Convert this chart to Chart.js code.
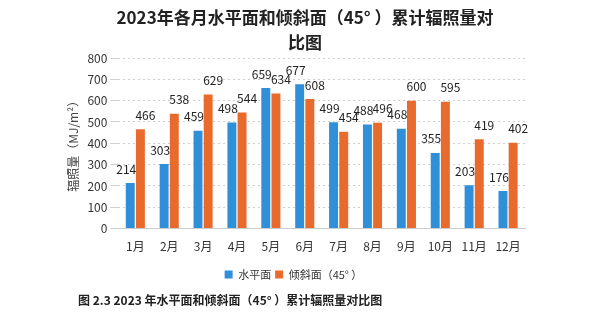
<!DOCTYPE html>
<html>
<head>
<meta charset="utf-8">
<script src="https://cdn.jsdelivr.net/npm/chart.js@4"></script>
<style>
  html, body { margin: 0; padding: 0; background: #fff; }
  #wrap { position: relative; width: 600px; height: 333px; }
  #title {
    position: absolute; left: 0; top: 4px; width: 610px;
    text-align: center; line-height: 20px;
    font: bold 17px "Noto Sans CJK SC", "DejaVu Sans", sans-serif;
    color: #222;
  }
  #caption {
    position: absolute; left: 78px; top: 291px;
    font: bold 12px "Noto Sans CJK SC", "DejaVu Sans", sans-serif;
    color: #222; white-space: pre;
  }
</style>
</head>
<body>
<div id="wrap">
  <canvas id="radChart" width="600" height="333"></canvas>
  <div id="title">2023年各月水平面和倾斜面（45° ）累计辐照量对<br>比图</div>
  <div id="caption">图 2.3 2023 年水平面和倾斜面（45° ）累计辐照量对比图</div>
</div>
<script>
const months = ['1月', '2月', '3月', '4月', '5月', '6月', '7月', '8月', '9月', '10月', '11月', '12月'];
const horizontal = [214, 303, 459, 498, 659, 677, 499, 488, 468, 355, 203, 176];
const tilted = [466, 538, 629, 544, 634, 608, 454, 496, 600, 595, 419, 402];

const cjk = '"Noto Sans CJK SC", "Noto Sans", sans-serif';

// value labels above each bar, blue shifted left and orange shifted right
const barValues = {
    id: 'barValues',
    afterDatasetsDraw(chart) {
        const c = chart.ctx;
        c.save();
        c.font = '12px ' + cjk;
        c.fillStyle = '#222';
        c.textAlign = 'center';
        c.textBaseline = 'bottom';
        chart.data.datasets.forEach((ds, i) => {
            const meta = chart.getDatasetMeta(i);
            meta.data.forEach((bar, j) => {
                const dx = i === 0 ? -4 : 5;
                c.fillText(ds.data[j], bar.x + dx, bar.y - 8);
            });
        });
        c.restore();
    }
};

new Chart(document.getElementById('radChart').getContext('2d'), {
    type: 'bar',
    data: {
        labels: months,
        datasets: [
            {
                label: '水平面',
                data: horizontal,
                backgroundColor: '#2f8fd9',
                barPercentage: 0.88,
                categoryPercentage: 0.6
            },
            {
                label: '倾斜面（45° ）',
                data: tilted,
                backgroundColor: '#e86a2c',
                barPercentage: 0.88,
                categoryPercentage: 0.6
            }
        ]
    },
    options: {
        responsive: false,
        animation: false,
        layout: { padding: { left: 62, right: 75, top: 58, bottom: 43 } },
        plugins: {
            title: { display: false },
            legend: {
                position: 'bottom',
                labels: {
                    boxWidth: 8,
                    boxHeight: 8,
                    padding: 4,
                    color: '#333',
                    font: { family: cjk, size: 11 }
                }
            },
            tooltip: { enabled: false }
        },
        scales: {
            x: {
                grid: { display: false },
                border: { color: '#ccc' },
                ticks: { color: '#333', font: { family: cjk, size: 12 } },
                afterFit(scale) { scale.height += 8; }
            },
            y: {
                min: 0,
                max: 800,
                ticks: { stepSize: 100, color: '#333', font: { family: cjk, size: 12 } },
                grid: { color: '#d0d0d0' },
                border: { display: false, dash: [2, 3] },
                title: {
                    display: true,
                    text: '辐照量（MJ/m²）',
                    color: '#444',
                    font: { family: cjk, size: 12 }
                }
            }
        }
    },
    plugins: [barValues]
});
</script>
</body>
</html>
